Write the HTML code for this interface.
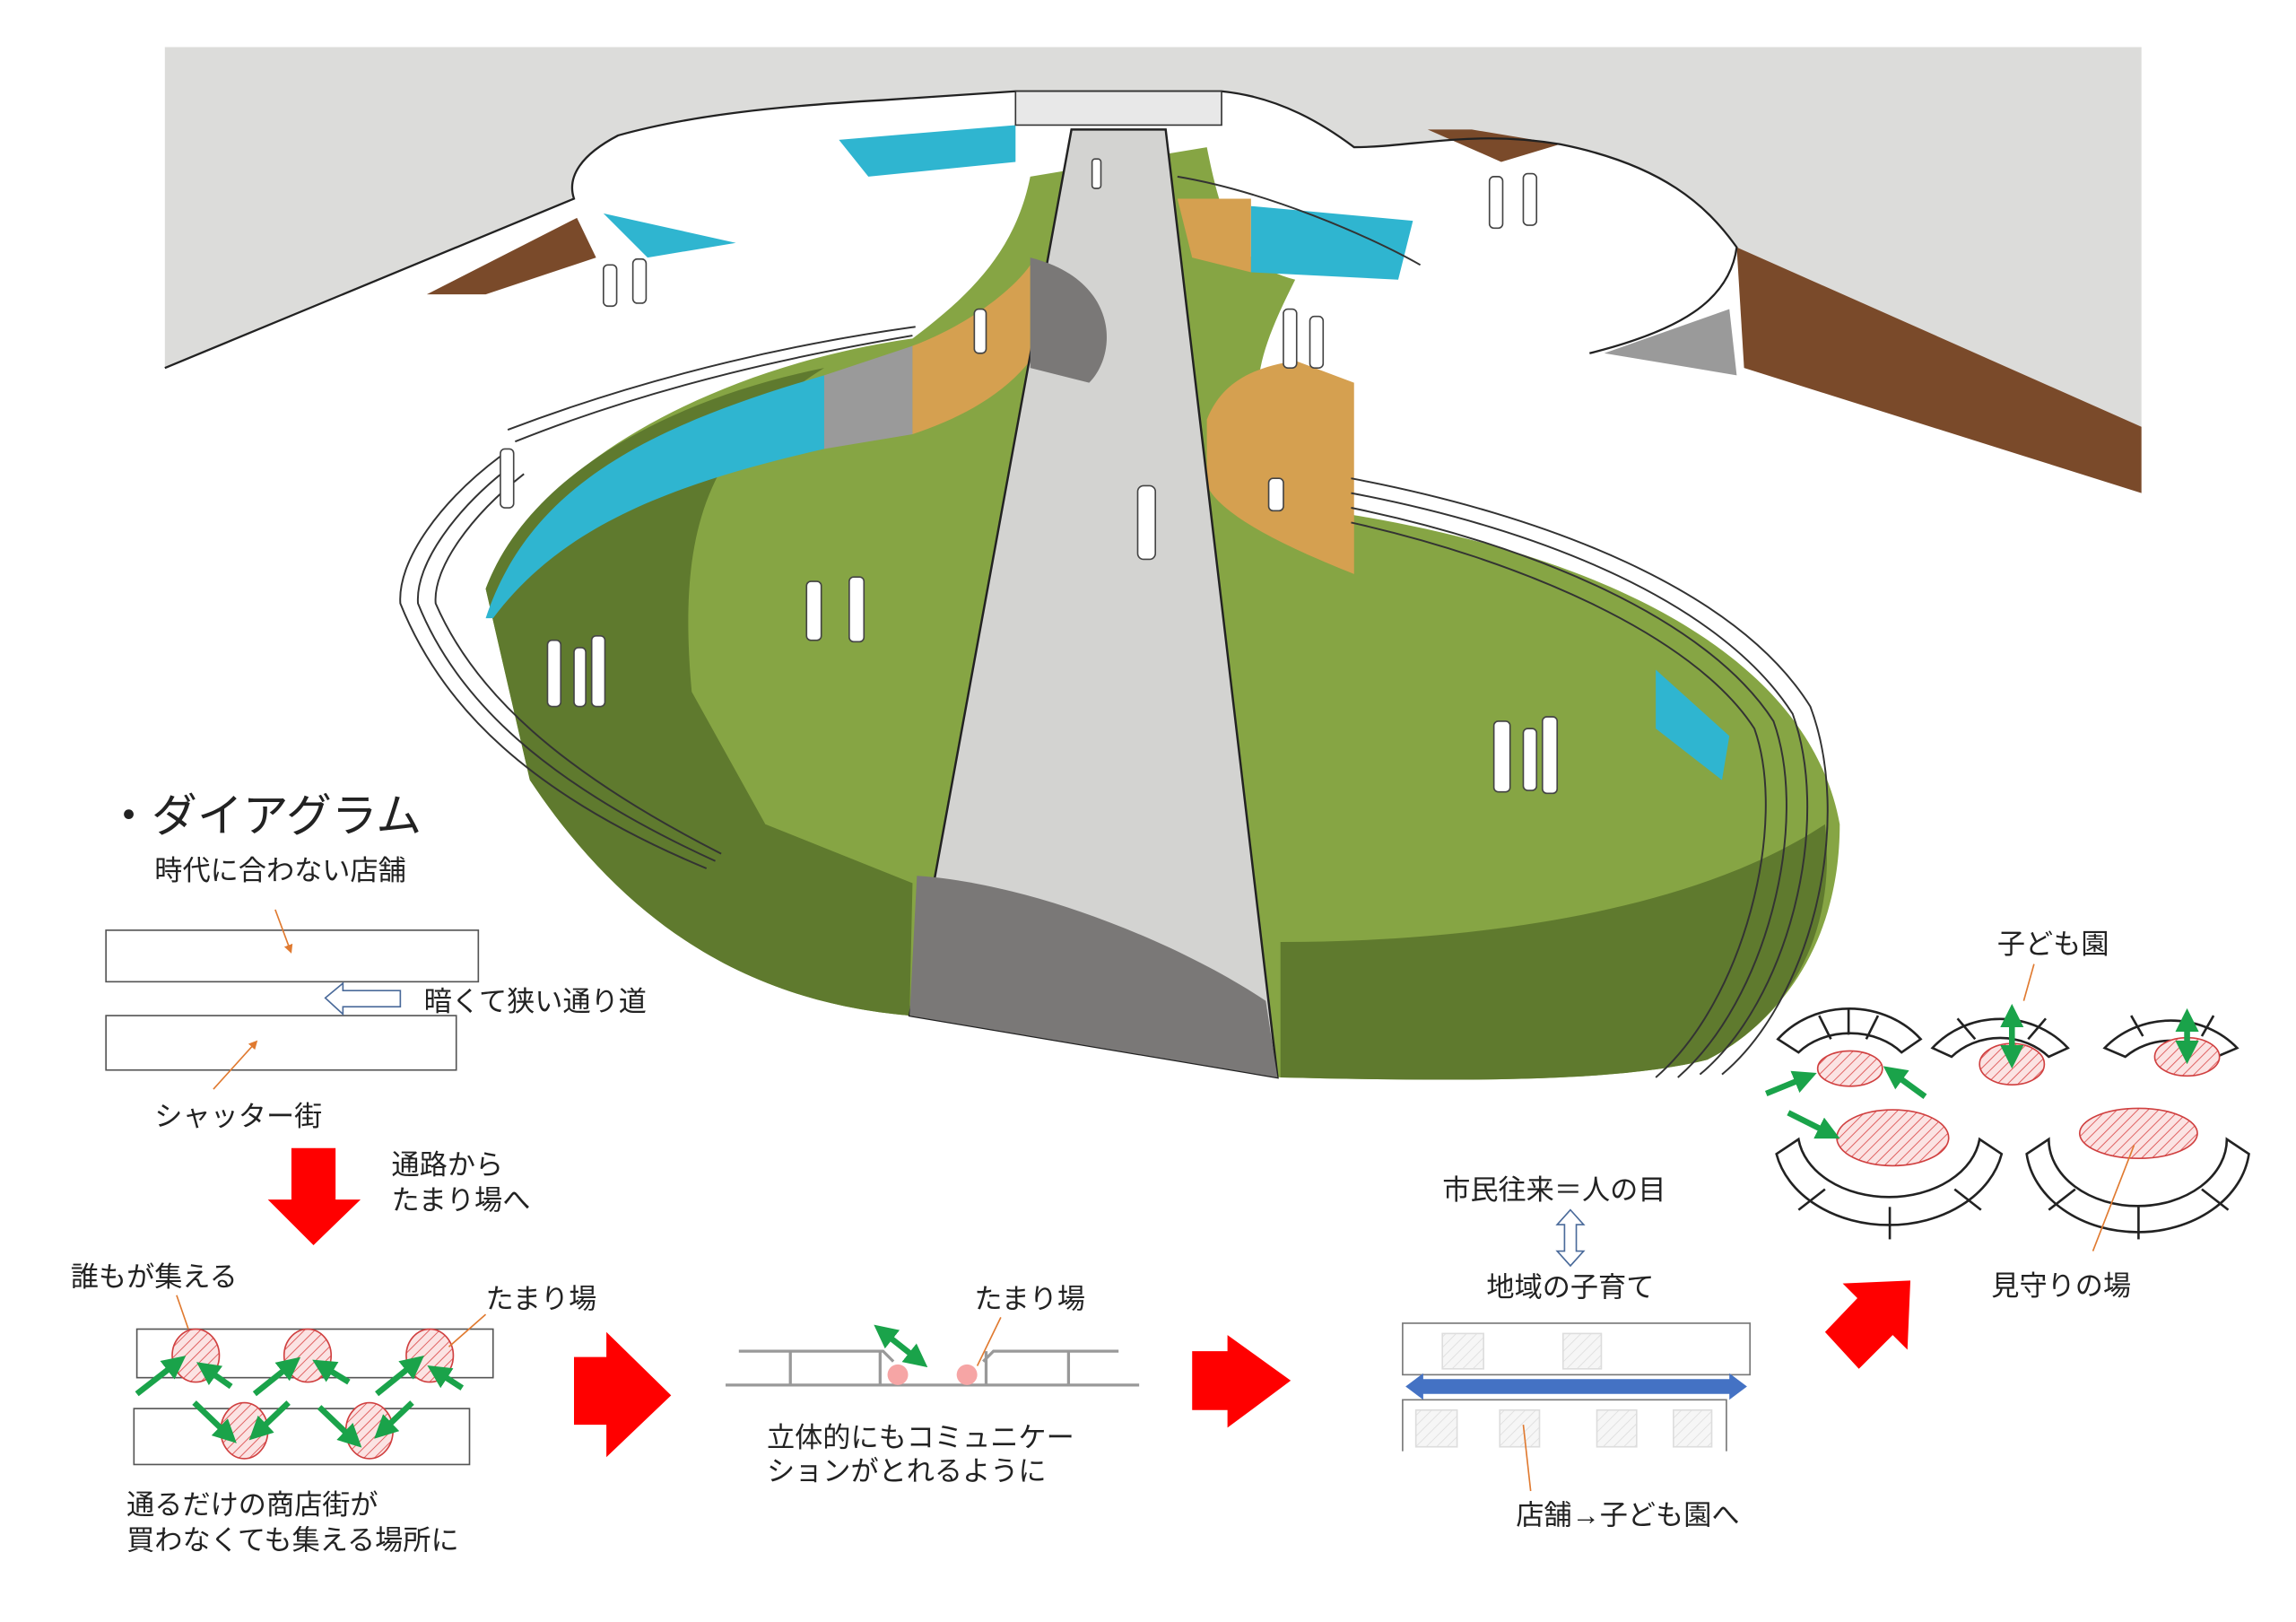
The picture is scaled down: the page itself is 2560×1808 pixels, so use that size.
<!DOCTYPE html>
<html><head><meta charset="utf-8">
<style>
html,body{margin:0;padding:0;background:#fff;}
svg{display:block;}
text{font-family:"Liberation Sans","Noto Sans CJK JP",sans-serif;fill:#222;}
</style></head><body>
<svg width="2560" height="1808" viewBox="0 0 1560 1102" preserveAspectRatio="none" xmlns="http://www.w3.org/2000/svg">
<defs>
<pattern id="h" width="5" height="5" patternUnits="userSpaceOnUse" patternTransform="rotate(45)">
<rect width="5" height="5" fill="#fbe3e3"/><line x1="0" y1="0" x2="0" y2="5" stroke="#e06060" stroke-width="1.2"/></pattern>
<pattern id="hg" width="5" height="5" patternUnits="userSpaceOnUse" patternTransform="rotate(45)">
<rect width="5" height="5" fill="#f6f6f6"/><line x1="0" y1="0" x2="0" y2="5" stroke="#ddd" stroke-width="1"/></pattern>
<marker id="ga" markerWidth="4" markerHeight="4" refX="2" refY="2" orient="auto"><path d="M0,0 L4,2 L0,4z" fill="#1aa34a"/></marker>
<marker id="gs" markerWidth="4" markerHeight="4" refX="2" refY="2" orient="auto-start-reverse"><path d="M0,0 L4,2 L0,4z" fill="#1aa34a"/></marker>
<marker id="oa" markerWidth="6" markerHeight="6" refX="3" refY="3" orient="auto"><path d="M0,0 L6,3 L0,6z" fill="#e07a30"/></marker>
</defs>

<!-- sky (only above roof outline) -->
<path d="M112,32 L1455,32 L1455,290 L1180,168 C1160,140 1130,112 1060,98 C1000,88 960,100 920,100 C900,85 870,66 830,62 L690,62 L600,68 C530,72 470,78 420,92 C395,105 385,120 390,135 L112,250 Z" fill="#dcdcda"/>
<!-- brown ground wedges -->
<polygon points="1180,168 1455,290 1455,335 1185,250" fill="#7a4a2a"/>
<polygon points="970,88 1000,88 1060,98 1020,110" fill="#7a4a2a"/>
<polygon points="290,200 392,148 405,175 330,200" fill="#7a4a2a"/>
<!-- roof outline -->
<g fill="none" stroke="#222" stroke-width="1.4">
<path d="M112,250 L390,135 C385,120 395,105 420,92 C470,78 530,72 600,68 L690,62 L830,62 C870,66 900,85 920,100 C960,100 1000,88 1060,98 C1130,112 1160,140 1180,168 C1175,205 1140,225 1080,240"/>
</g>
<!-- bowl green -->
<path d="M330,400 C360,320 480,250 620,230 C660,200 690,170 700,120 L820,100 C830,150 840,180 880,190 C850,250 830,300 920,350 C1100,380 1230,450 1250,560 C1250,650 1200,700 1160,720 C1100,735 1000,735 870,732 L618,690 C500,680 420,620 360,530 Z" fill="#86a544"/>
<path d="M330,400 C360,320 460,270 560,250 C480,300 460,360 470,470 L520,560 L620,600 L618,690 C500,680 420,620 360,530 Z" fill="#5f7a2e"/>
<path d="M870,640 C1000,640 1150,620 1240,560 C1250,650 1200,700 1160,720 C1100,735 1000,735 870,732 Z" fill="#5f7a2e"/>
<!-- walls/glass -->
<path d="M330,420 C360,330 440,290 560,255 L560,305 C450,330 380,360 335,420 Z" fill="#2fb5d0"/>
<path d="M560,255 L620,235 L620,295 L560,305Z" fill="#9a9a9a"/>
<path d="M620,235 C660,220 690,195 700,180 L700,245 C680,270 650,285 620,295Z" fill="#d5a050"/>
<path d="M820,285 C830,260 850,250 880,245 L920,260 L920,390 C870,370 830,350 820,330Z" fill="#d5a050"/>
<path d="M800,135 L850,135 L850,185 L810,175Z" fill="#d5a050"/>
<path d="M850,140 L960,150 L950,190 L850,185Z" fill="#2fb5d0"/>
<path d="M570,95 L690,85 L690,110 L590,120Z" fill="#2fb5d0"/>
<path d="M410,145 L500,165 L440,175Z" fill="#2fb5d0"/>
<path d="M1125,455 L1175,500 L1170,530 L1125,495Z" fill="#2fb5d0"/>
<path d="M1090,240 L1175,210 L1180,255 Z" fill="#9a9a9a"/>
<!-- layered rims -->
<g fill="none" stroke="#333" stroke-width="1.2">
<path d="M340,310 C300,340 270,380 272,410 C300,480 360,540 480,590"/>
<path d="M348,316 C310,345 282,383 284,410 C310,475 370,532 486,585"/>
<path d="M356,322 C320,350 294,386 296,410 C322,470 380,524 490,580"/>
<path d="M350,300 C450,260 550,240 620,228"/>
<path d="M345,292 C450,252 550,232 622,222"/>
<path d="M918,325 C1050,350 1180,400 1230,480 C1260,560 1230,680 1170,730"/>
<path d="M918,335 C1050,360 1170,410 1218,485 C1245,560 1215,680 1155,730"/>
<path d="M918,345 C1040,370 1160,420 1205,490 C1230,560 1200,680 1140,732"/>
<path d="M918,355 C1030,380 1150,430 1192,495 C1215,560 1185,680 1125,732"/>
<path d="M800,120 C860,130 930,160 965,180"/>
</g>
<!-- central path -->
<polygon points="728,88 792,88 868,732 618,690" fill="#d3d3d1" stroke="#222" stroke-width="1.5"/>
<path d="M700,175 C760,190 760,240 740,260 L700,250Z" fill="#7a7877"/>
<path d="M623,595 C700,600 800,640 860,680 L868,732 L618,690Z" fill="#7a7877"/>
<path d="M690,62 L830,62 L830,85 L690,85Z" fill="#e8e8e8" stroke="#333" stroke-width="1"/>
<!-- people -->
<g fill="#fff" stroke="#444" stroke-width="1">
<rect x="773" y="330" width="12" height="50" rx="4"/>
<rect x="548" y="395" width="10" height="40" rx="3"/><rect x="577" y="392" width="10" height="44" rx="3"/>
<rect x="372" y="435" width="9" height="45" rx="3"/><rect x="390" y="440" width="8" height="40" rx="3"/><rect x="402" y="432" width="9" height="48" rx="3"/>
<rect x="1015" y="490" width="11" height="48" rx="3"/><rect x="1035" y="495" width="9" height="42" rx="3"/><rect x="1048" y="487" width="10" height="52" rx="3"/>
<rect x="872" y="210" width="9" height="40" rx="3"/><rect x="890" y="215" width="9" height="35" rx="3"/>
<rect x="1012" y="120" width="9" height="35" rx="3"/><rect x="1035" y="118" width="9" height="35" rx="3"/>
<rect x="410" y="180" width="9" height="28" rx="3"/><rect x="430" y="176" width="9" height="30" rx="3"/>
<rect x="340" y="305" width="9" height="40" rx="3"/><rect x="662" y="210" width="8" height="30" rx="3"/>
<rect x="742" y="108" width="6" height="20" rx="2"/><rect x="862" y="325" width="10" height="22" rx="3"/>
</g>

<!-- Diagram left -->
<text x="72" y="565" font-size="31" font-family="Liberation Serif,'Noto Serif CJK SC',serif">・ダイアグラム</text>
<text x="105" y="598" font-size="19">時代に合わない店舗</text>
<rect x="72" y="632" width="253" height="35" fill="#fff" stroke="#555"/>
<rect x="72" y="690" width="238" height="37" fill="#fff" stroke="#555"/>
<line x1="187" y1="618" x2="197" y2="645" stroke="#e07a30" marker-end="url(#oa)"/>
<line x1="145" y1="740" x2="173" y2="709" stroke="#e07a30" marker-end="url(#oa)"/>
<polygon points="221,678 233,668 233,673 272,673 272,684 233,684 233,689" fill="#fff" stroke="#4a6a9a"/>
<text x="288" y="687" font-size="19">暗くて狭い通り道</text>
<text x="105" y="765" font-size="19">シャッター街</text>
<polygon points="198,780 228,780 228,815 245,815 213,846 182,815 198,815" fill="#f00"/>
<text x="266" y="798" font-size="19">通路から</text>
<text x="266" y="822" font-size="19">たまり場へ</text>
<text x="48" y="874" font-size="19">誰もが集える</text>
<text x="330" y="889" font-size="19">たまり場</text>
<rect x="93" y="903" width="242" height="33" fill="#fff" stroke="#555"/>
<rect x="91" y="957" width="228" height="38" fill="#fff" stroke="#555"/>
<g stroke="#d04040" fill="url(#h)">
<ellipse cx="133" cy="921" rx="16" ry="18"/><ellipse cx="209" cy="921" rx="16" ry="18"/><ellipse cx="292" cy="921" rx="16" ry="18"/>
<ellipse cx="166" cy="972" rx="16" ry="19"/><ellipse cx="251" cy="972" rx="16" ry="19"/></g>
<g stroke="#1aa34a" stroke-width="4" marker-end="url(#ga)">
<line x1="93" y1="947" x2="120" y2="926"/><line x1="157" y1="942" x2="140" y2="930"/>
<line x1="173" y1="947" x2="198" y2="927"/><line x1="237" y1="939" x2="219" y2="928"/>
<line x1="256" y1="947" x2="282" y2="926"/><line x1="314" y1="943" x2="297" y2="932"/>
<line x1="132" y1="953" x2="155" y2="975"/><line x1="196" y1="953" x2="175" y2="973"/>
<line x1="217" y1="956" x2="240" y2="978"/><line x1="280" y1="953" x2="260" y2="972"/>
</g>
<line x1="120" y1="880" x2="128" y2="903" stroke="#e07a30"/>
<line x1="330" y1="893" x2="305" y2="915" stroke="#e07a30"/>
<text x="86" y="1029" font-size="19">通るだけの商店街が</text>
<text x="86" y="1053" font-size="19">買わなくても集える場所に</text>

<!-- arrow 2 -->
<polygon points="390,922 412,922 412,905 456,948 412,990 412,968 390,968" fill="#f00"/>
<!-- section -->
<g stroke="#999" stroke-width="2" fill="none">
<line x1="493" y1="941" x2="774" y2="941"/>
<polyline points="502,918 600,918 607,925"/><polyline points="668,925 675,918 760,918"/>
<line x1="537" y1="918" x2="537" y2="941"/><line x1="598" y1="918" x2="598" y2="941"/>
<line x1="670" y1="918" x2="670" y2="941"/><line x1="726" y1="918" x2="726" y2="941"/>
</g>
<circle cx="610" cy="934" r="7" fill="#f6a5a5"/><circle cx="657" cy="934" r="7" fill="#f6a5a5"/>
<line x1="600" y1="905" x2="624" y2="924" stroke="#1aa34a" stroke-width="4" marker-end="url(#ga)" marker-start="url(#gs)"/>
<text x="662" y="889" font-size="19">たまり場</text>
<line x1="680" y1="895" x2="664" y2="928" stroke="#e07a30"/>
<text x="521" y="983" font-size="19">立体的にもコミュニケー</text>
<text x="521" y="1006" font-size="19">ションがとれるように</text>

<!-- arrow 3 -->
<polygon points="810,918 834,918 834,907 877,938 834,970 834,958 810,958" fill="#f00"/>
<text x="980" y="815" font-size="19">市民往来＝人の目</text>
<polygon points="1067,822 1076,832 1071,832 1071,850 1076,850 1067,860 1058,850 1063,850 1063,832 1058,832" fill="#fff" stroke="#4a6a9a"/>
<text x="1010" y="881" font-size="19">地域の子育て</text>
<rect x="953" y="899" width="236" height="35" fill="#fff" stroke="#777"/>
<path d="M953,986 L953,951 L1173,951 L1173,986" fill="#fff" stroke="#777"/>
<g fill="url(#hg)" stroke="#ddd"><rect x="980" y="906" width="28" height="24"/><rect x="1062" y="906" width="26" height="24"/>
<rect x="962" y="958" width="28" height="25"/><rect x="1019" y="958" width="27" height="25"/><rect x="1085" y="958" width="27" height="25"/><rect x="1137" y="958" width="26" height="25"/></g>
<polygon points="955,942 967,933 967,937 1175,937 1175,933 1187,942 1175,951 1175,947 967,947 967,951" fill="#4472c4"/>
<line x1="1040" y1="1013" x2="1035" y2="968" stroke="#e07a30"/>
<text x="1030" y="1036" font-size="19">店舗→子ども園へ</text>

<!-- arrow 4 diagonal -->
<polygon points="1240,905 1262,882 1252,872 1298,870 1296,917 1286,907 1263,930" fill="#f00"/>

<!-- kindergarten diagrams -->
<g fill="none" stroke="#222" stroke-width="1.6">
<path d="M1208,706 A62,55 0 0 1 1305,706 L1292,715 A45,35 0 0 0 1222,715 Z"/>
<line x1="1256" y1="686" x2="1256" y2="703"/><line x1="1236" y1="690" x2="1244" y2="706"/><line x1="1276" y1="690" x2="1268" y2="706"/>
<path d="M1313,712 A60,55 0 0 1 1405,712 L1392,718 A45,40 0 0 0 1326,718 Z"/>
<line x1="1330" y1="692" x2="1342" y2="706"/><line x1="1390" y1="692" x2="1378" y2="706"/>
<path d="M1430,712 A60,55 0 0 1 1520,712 L1506,718 A45,40 0 0 0 1444,718 Z"/>
<line x1="1448" y1="690" x2="1456" y2="704"/><line x1="1504" y1="690" x2="1496" y2="704"/>
<path d="M1207,784 A78,60 0 0 0 1360,784 L1345,774 A62,45 0 0 1 1222,774 Z"/>
<line x1="1284" y1="820" x2="1284" y2="842"/><line x1="1240" y1="808" x2="1222" y2="822"/><line x1="1328" y1="808" x2="1346" y2="822"/>
<path d="M1377,784 A76,60 0 0 0 1528,784 L1513,774 A60,45 0 0 1 1392,774 Z"/>
<line x1="1453" y1="820" x2="1453" y2="842"/><line x1="1410" y1="808" x2="1392" y2="822"/><line x1="1496" y1="808" x2="1514" y2="822"/>
</g>
<g stroke="#d04040" fill="url(#h)">
<ellipse cx="1257" cy="726" rx="22" ry="12"/><ellipse cx="1367" cy="723" rx="22" ry="14"/><ellipse cx="1486" cy="718" rx="22" ry="13"/>
<ellipse cx="1286" cy="773" rx="38" ry="19"/><ellipse cx="1453" cy="770" rx="40" ry="17"/></g>
<g stroke="#1aa34a" stroke-width="4">
<line x1="1367" y1="690" x2="1367" y2="718" marker-end="url(#ga)" marker-start="url(#gs)"/>
<line x1="1486" y1="693" x2="1486" y2="715" marker-end="url(#ga)" marker-start="url(#gs)"/>
<line x1="1200" y1="743" x2="1227" y2="732" marker-end="url(#ga)"/>
<line x1="1308" y1="745" x2="1286" y2="729" marker-end="url(#ga)"/>
<line x1="1215" y1="756" x2="1243" y2="770" marker-end="url(#ga)"/>
</g>
<text x="1357" y="648" font-size="19">子ども園</text>
<line x1="1382" y1="655" x2="1375" y2="680" stroke="#e07a30"/>
<line x1="1422" y1="850" x2="1450" y2="778" stroke="#e07a30"/>
<text x="1353" y="880" font-size="19">見守りの場</text>
</svg>
</body></html>
